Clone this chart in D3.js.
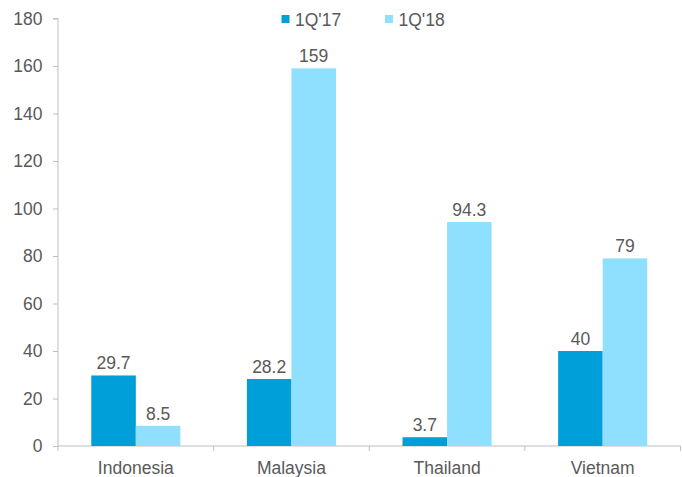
<!DOCTYPE html>
<html><head><meta charset="utf-8">
<script src="https://cdn.jsdelivr.net/npm/d3@7"></script>
<style>
body{margin:0;background:#fff;}
text{font-family:"Liberation Sans",Arial,sans-serif;fill:#595959;}
</style></head>
<body>
<svg id="c" width="682" height="477"></svg>
<script>
const categories = ["Indonesia","Malaysia","Thailand","Vietnam"];
const seriesNames = ["1Q'17","1Q'18"];
const values17 = [29.7, 28.2, 3.7, 40];
const values18 = [8.5, 159, 94.3, 79];
const labels17 = ["29.7","28.2","3.7","40"];
const labels18 = ["8.5","159","94.3","79"];
const yTicks = [0,20,40,60,80,100,120,140,160,180];
const colors = ["#009fd9","#8fdfff"];
const FS = 17.5;

const svg = d3.select("#c");
const m = {l:58};
const x0 = d3.scaleBand().domain(categories).range([m.l, 680.5]).paddingInner(0).paddingOuter(0);
const x1 = d3.scaleBand().domain(seriesNames).range([0, x0.bandwidth()]).paddingInner(0).paddingOuter(0.747);
const y = d3.scaleLinear().domain([0,180]).range([446, 18.5]);

// y axis
const ya = svg.append("g").attr("transform",`translate(${m.l},0)`)
  .call(d3.axisLeft(y).tickValues(yTicks).tickSize(5).tickPadding(10.5));
ya.select(".domain").attr("stroke","#bfbfbf").attr("d",`M-5,${y(180)}H0V${y(0)}`);
ya.selectAll(".tick line").attr("stroke","#bfbfbf");
ya.selectAll(".tick text").attr("font-size",FS).style("fill","#595959").attr("font-family","Liberation Sans, Arial, sans-serif");

// x axis
const xg = svg.append("g");
xg.append("line").attr("x1",m.l).attr("x2",680.5).attr("y1",y(0)).attr("y2",y(0)).attr("stroke","#bfbfbf");
const bounds = categories.map(c=>x0(c)).concat([x0(categories[3])+x0.bandwidth()]);
xg.selectAll("line.tk").data(bounds).enter().append("line").attr("class","tk")
  .attr("x1",d=>d).attr("x2",d=>d).attr("y1",y(0)).attr("y2",y(0)+5).attr("stroke","#bfbfbf");
xg.selectAll("text").data(categories).enter().append("text")
  .attr("x",d=>x0(d)+x0.bandwidth()/2).attr("y",473.5).attr("text-anchor","middle").attr("font-size",FS).text(d=>d);

// bars
const series = [values17, values18];
const slabels = [labels17, labels18];
series.forEach((vals,si)=>{
  const g = svg.append("g");
  g.selectAll("rect").data(categories).enter().append("rect")
    .attr("x",(c)=>x0(c)+x1(seriesNames[si]))
    .attr("width",x1.bandwidth())
    .attr("y",(c,i)=>y(vals[i]))
    .attr("height",(c,i)=>y(0)-y(vals[i]))
    .attr("fill",colors[si]);
  g.selectAll("text").data(categories).enter().append("text")
    .attr("x",(c)=>x0(c)+x1(seriesNames[si])+x1.bandwidth()/2)
    .attr("y",(c,i)=>y(vals[i])-6)
    .attr("text-anchor","middle").attr("font-size",FS)
    .text((c,i)=>slabels[si][i]);
});

// legend
const legX = [281.5, 385];
seriesNames.forEach((s,i)=>{
  svg.append("rect").attr("x",legX[i]).attr("y",15).attr("width",8).attr("height",8).attr("fill",colors[i]);
  svg.append("text").attr("x",legX[i]+13.5).attr("y",25.5).attr("font-size",FS).text(s);
});
</script>
</body></html>
